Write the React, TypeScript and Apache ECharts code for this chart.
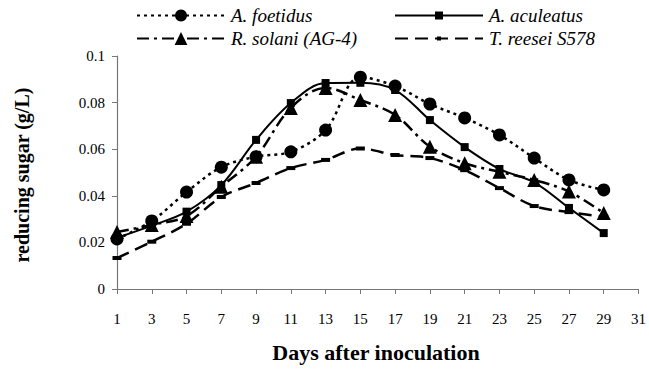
import React, { useEffect, useRef } from "react";
import * as echarts from "echarts";

const days = ["1", "3", "5", "7", "9", "11", "13", "15", "17", "19", "21", "23", "25", "27", "29", "31"];
const yTicks = [0, 0.02, 0.04, 0.06, 0.08, 0.1];

const foetidus = [0.0215, 0.0292, 0.0416, 0.0523, 0.0568, 0.0589, 0.0682, 0.0909, 0.0871, 0.0794, 0.0734, 0.0661, 0.0562, 0.0468, 0.0425];
const aculeatus = [0.022, 0.0272, 0.0332, 0.0446, 0.064, 0.0798, 0.0884, 0.0885, 0.0854, 0.0725, 0.0609, 0.0515, 0.0458, 0.0348, 0.024];
const solani = [0.0245, 0.0275, 0.0313, 0.0439, 0.0568, 0.0777, 0.0863, 0.0811, 0.0747, 0.0611, 0.054, 0.0503, 0.0468, 0.0418, 0.0326];
const reesei = [0.0133, 0.0203, 0.028, 0.0395, 0.0455, 0.0519, 0.0554, 0.0603, 0.0575, 0.0562, 0.051, 0.0433, 0.0356, 0.033, 0.031];

const names = ["A. foetidus", "A. aculeatus", "R. solani (AG-4)", "T. reesei S578"];

const SERIF = "'Liberation Serif', 'Times New Roman', serif";

function legendFor(name: string, left: number, centerY: number, itemHeight: number) {
  return {
    orient: "horizontal",
    left,
    top: centerY - 11,
    itemWidth: 88,
    itemHeight,
    itemGap: 0,
    padding: 0,
    data: [name],
    textStyle: { fontFamily: SERIF, fontStyle: "italic", fontSize: 19, color: "#000", padding: [0, 0, 0, 1] },
  };
}

export default function App() {
  const ref = useRef<HTMLDivElement>(null);
  useEffect(() => {
    if (!ref.current) return;
    const chart = echarts.init(ref.current, undefined, { renderer: "svg" });
    const base = {
      type: "line",
      smooth: 0.35,
      showAllSymbol: true,
      z: 2,
    };
    chart.setOption({
      animation: false,
      backgroundColor: "#ffffff",
      grid: { left: 117, right: 8, top: 56, bottom: 85, containLabel: false },
      legend: [
        legendFor(names[0], 136, 17, 15),
        legendFor(names[2], 136, 40, 16),
        legendFor(names[1], 394, 17, 10),
        legendFor(names[3], 394, 40, 5),
      ],
      xAxis: {
        type: "category",
        data: days,
        boundaryGap: false,
        axisLine: { lineStyle: { color: "#777", width: 1.2 } },
        axisTick: { show: true, length: 5, inside: false, lineStyle: { color: "#777" }, alignWithLabel: true },
        axisLabel: { fontFamily: SERIF, fontSize: 15, color: "#000", margin: 22, interval: 0 },
        splitLine: { show: false },
      },
      yAxis: {
        type: "value",
        min: yTicks[0],
        max: yTicks[yTicks.length - 1],
        interval: 0.02,
        axisLine: { show: true, lineStyle: { color: "#777", width: 1.2 } },
        axisTick: { show: true, length: 5, inside: false, lineStyle: { color: "#777" } },
        axisLabel: {
          fontFamily: SERIF,
          fontSize: 15,
          color: "#000",
          margin: 12,
          formatter: (v: number) => String(Math.round(v * 100) / 100),
        },
        splitLine: { show: false },
      },
      graphic: [
        {
          type: "text",
          x: 22,
          y: 175,
          rotation: Math.PI / 2,
          style: {
            text: "reducing sugar (g/L)",
            font: `bold 20px ${SERIF}`,
            fill: "#000",
            align: "center",
            verticalAlign: "middle",
          },
        },
        {
          type: "text",
          x: 376,
          y: 352,
          style: {
            text: "Days after inoculation",
            font: `bold 22px ${SERIF}`,
            fill: "#000",
            align: "center",
            verticalAlign: "middle",
          },
        },
      ],
      series: [
        {
          ...base,
          name: names[0],
          data: foetidus,
          symbol: "circle",
          symbolSize: 13,
          itemStyle: { color: "#000" },
          lineStyle: { color: "#000", width: 2.5, type: [3, 4] },
        },
        {
          ...base,
          name: names[1],
          data: aculeatus,
          symbol: "rect",
          symbolSize: 8,
          itemStyle: { color: "#000" },
          lineStyle: { color: "#000", width: 2 },
        },
        {
          ...base,
          name: names[2],
          data: solani,
          symbol: "triangle",
          symbolSize: 14,
          itemStyle: { color: "#000" },
          lineStyle: { color: "#000", width: 2.5, type: [12, 5, 3, 5] },
        },
        {
          ...base,
          name: names[3],
          data: reesei,
          symbol: "rect",
          symbolSize: [9, 4],
          itemStyle: { color: "#000" },
          lineStyle: { color: "#000", width: 2.5, type: [13, 7] },
        },
      ],
    });
    return () => chart.dispose();
  }, []);
  return (
    <div
      ref={ref}
      style={{ position: "fixed", left: 0, top: 0, width: 649, height: 374, background: "#fff" }}
    />
  );
}
